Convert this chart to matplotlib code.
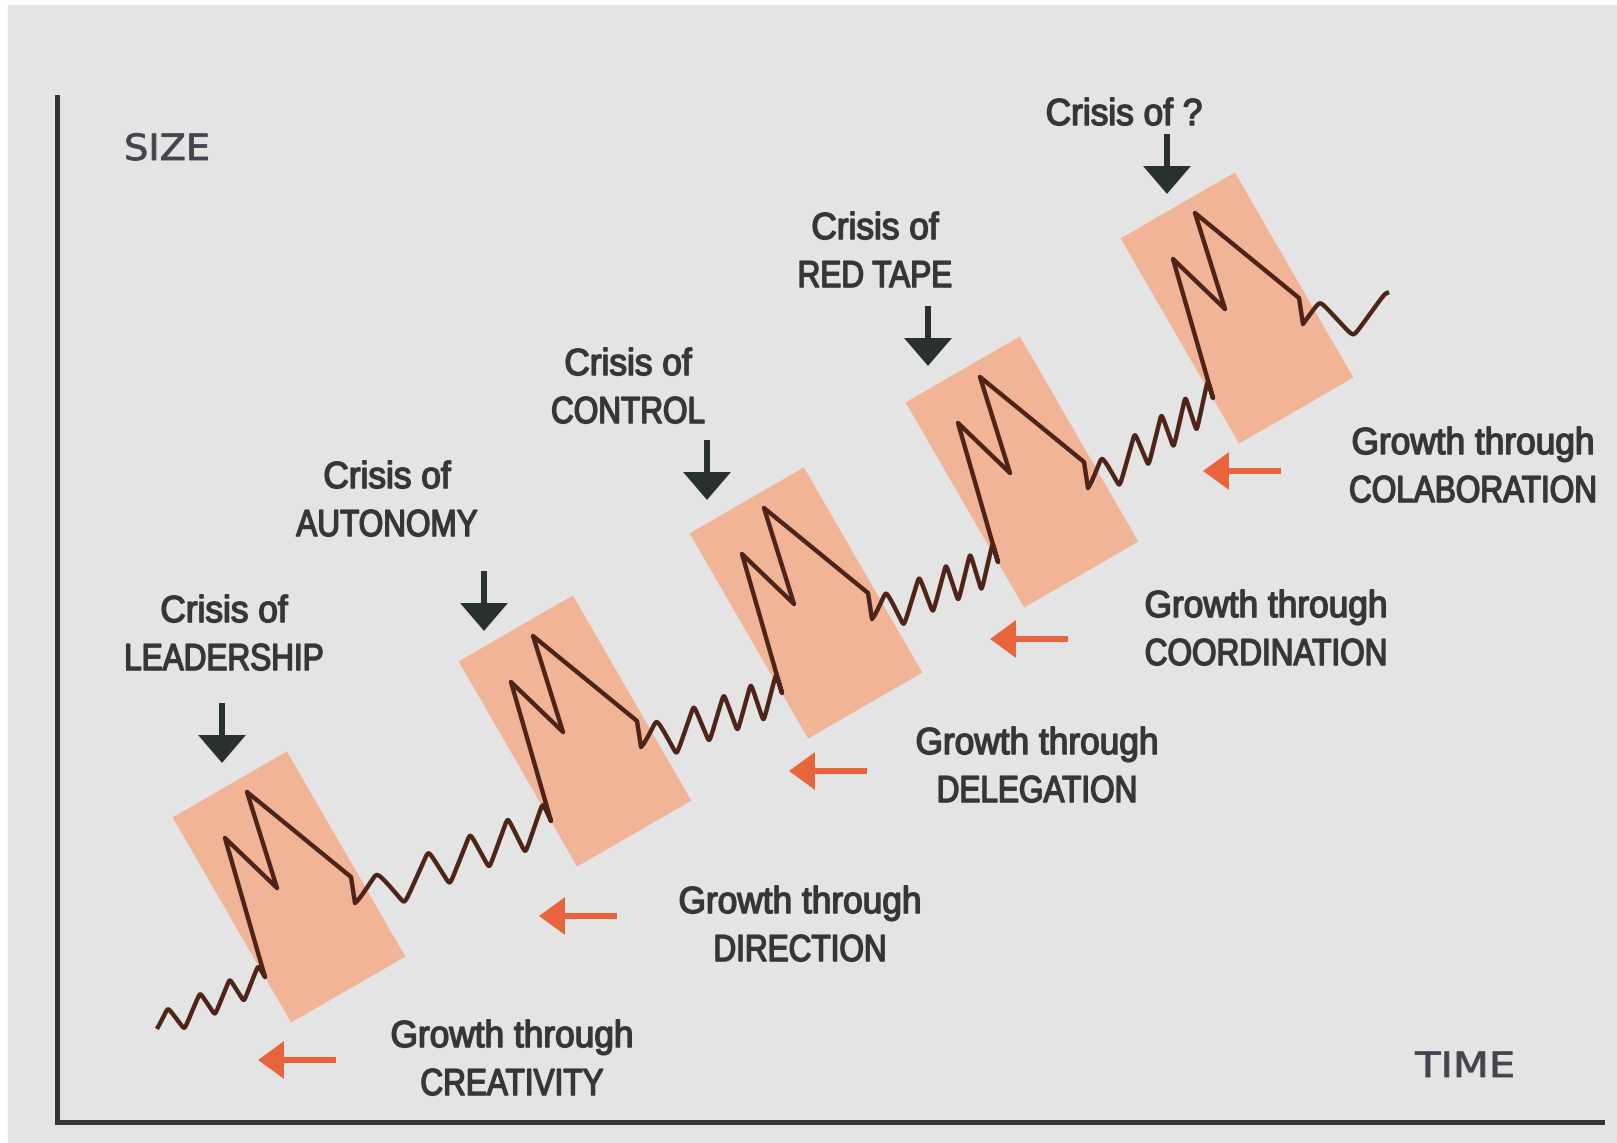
import numpy as np
import matplotlib
matplotlib.use("Agg")
import matplotlib.pyplot as plt
from matplotlib import font_manager
from matplotlib.patches import Polygon, Rectangle, FancyArrow
from matplotlib.patheffects import AbstractPathEffect
from matplotlib.transforms import Affine2D

# stages of the model
crisis_labels = ["Crisis of\nLEADERSHIP", "Crisis of\nAUTONOMY", "Crisis of\nCONTROL",
                 "Crisis of\nRED TAPE", "Crisis of ?"]
growth_labels = ["Growth through\nCREATIVITY", "Growth through\nDIRECTION",
                 "Growth through\nDELEGATION", "Growth through\nCOORDINATION",
                 "Growth through\nCOLABORATION"]
axis_labels = ["SIZE", "TIME"]

# layout (pixel coords, y downwards)
W, H = 1617, 1143
box_cx = [289, 575, 806, 1022, 1237]
box_cy = [887, 731, 603, 472, 308]
box_w, box_h, box_ang = 132, 237, 30
# M shape of a revolution, relative to box centre
m_dx = [-24, -64, -12, -42, 62, 66]
m_dy = [90, -49, 1, -95, -10, 16]
crisis_x = [224, 387, 628, 875, 1124]
crisis_y = [622, 488, 375, 239, 125]
down_x = [222, 484, 707, 928, 1167]
down_tip = [763, 631, 500, 366, 194]
growth_x = [512, 800, 1037, 1266, 1473]
growth_y = [1047, 913, 754, 617, 454]
orange_tip = [258, 539, 789, 990, 1203]
orange_y = [1060, 916, 771, 639, 471]
line_start = (158, 1027)
line_end = (1387, 311)

names = {f.name for f in font_manager.fontManager.ttflist}
has_narrow = 'Liberation Sans Narrow' in names
narrow = 'Liberation Sans Narrow' if has_narrow else 'Liberation Sans'

bg = '#e4e4e4'
txt_col = '#363638'
dark = '#283030'
orange = '#e8643c'
box_col = '#f1b497'
line_col = '#4e2418'


class Stretch(AbstractPathEffect):
    """draw text squeezed/widened horizontally around x = cx (pixels)"""
    def __init__(self, cx, sx, stroke=0.0):
        super().__init__()
        self.cx, self.sx, self.stroke = cx, sx, stroke

    def draw_path(self, renderer, gc, tpath, affine, rgbFace=None):
        aff = affine + Affine2D().translate(-self.cx, 0).scale(self.sx, 1).translate(self.cx, 0)
        gc0 = renderer.new_gc()
        gc0.copy_properties(gc)
        if self.stroke > 0 and rgbFace is not None:
            gc0.set_foreground(rgbFace)
            gc0.set_linewidth(self.stroke)
        renderer.draw_path(gc0, tpath, aff, rgbFace)
        gc0.restore()


def wiggle(a, b, n_half, amp, power=1.3):
    # zigzag that gets tighter towards the next crisis
    t = np.linspace(0, 1, 400)
    phi = np.pi * n_half * t ** power
    s = np.arcsin(0.97 * np.sin(phi)) / np.arcsin(0.97)
    x = a[0] + t * (b[0] - a[0])
    y = a[1] + t * (b[1] - a[1]) - amp * s
    return x, y


fig = plt.figure(figsize=(W / 100, H / 100), dpi=100)
fig.patch.set_facecolor('white')
ax = fig.add_axes([0, 0, 1, 1])
ax.set_xlim(0, W)
ax.set_ylim(H, 0)
ax.axis('off')
ax.add_patch(Rectangle((8, 5), W, H, color=bg, zorder=0))
renderer = fig.canvas.get_renderer()

# axes of the diagram
ax.plot([57, 57, 1602], [97, 1122, 1122], color='#333338', lw=3.6,
        solid_joinstyle='miter', zorder=2)
ax.text(167, 150, axis_labels[0], fontsize=26, color='#44444e', ha='center', va='center',
        path_effects=[Stretch(167, 1.06, 0.6)])
ax.text(1465, 1067, axis_labels[1], fontsize=25, color='#44444e', ha='center', va='center',
        path_effects=[Stretch(1465, 1.2, 0.6)])

# boxes
a = np.radians(box_ang)
u = np.array([np.cos(a), -np.sin(a)])
v = np.array([np.sin(a), np.cos(a)])
for cx, cy in zip(box_cx, box_cy):
    c = np.array([cx, cy])
    pts = [c - box_w / 2 * u - box_h / 2 * v, c + box_w / 2 * u - box_h / 2 * v,
           c + box_w / 2 * u + box_h / 2 * v, c - box_w / 2 * u + box_h / 2 * v]
    ax.add_patch(Polygon(pts, closed=True, color=box_col, lw=0, zorder=1))

# the growth line
xs, ys = [], []
prev = line_start
for i, (cx, cy) in enumerate(zip(box_cx, box_cy)):
    mx = [cx + d for d in m_dx]
    my = [cy + d for d in m_dy]
    if i == 0:
        wx, wy = wiggle(prev, (mx[0], my[0]), 7, 13, 1.1)
    else:
        wx, wy = wiggle(prev, (mx[0], my[0]), 9, 19)
    xs += list(wx) + mx[1:]
    ys += list(wy) + my[1:]
    prev = (mx[-1], my[-1])
wx, wy = wiggle(prev, line_end, 2.5, 18, 1.0)
xs += list(wx)
ys += list(wy)
ax.plot(xs, ys, color=line_col, lw=3.2, solid_joinstyle='round', zorder=3)


def two_lines(lab, tx, ty):
    # condensed look: squeeze the glyphs, anchor on the right edge of the drawn text
    for k, line in enumerate(lab.split('\n')):
        sx = 1.0 if has_narrow else (0.84 if line.isupper() else 0.94)
        t = ax.text(tx, ty + 48 * k, line, fontsize=27, family=narrow, color=txt_col,
                    ha='center', va='baseline', zorder=4)
        w = t.get_window_extent(renderer).width
        right = tx + w * sx / 2
        t.set_x(right)
        t.set_ha('right')
        t.set_path_effects([Stretch(right, sx, 1.1)])


# crisis arrows and labels
for lab, tx, ty, ax_x, tip in zip(crisis_labels, crisis_x, crisis_y, down_x, down_tip):
    two_lines(lab, tx, ty)
    ax.add_patch(FancyArrow(ax_x, tip - 60, 0, 60, width=6, head_width=48,
                            head_length=28, length_includes_head=True,
                            color=dark, lw=0, zorder=4))

# growth arrows and labels
for lab, tx, ty, tipx, oy in zip(growth_labels, growth_x, growth_y, orange_tip, orange_y):
    two_lines(lab, tx, ty)
    ax.add_patch(FancyArrow(tipx + 78, oy, -78, 0, width=6, head_width=38,
                            head_length=26, length_includes_head=True,
                            color=orange, lw=0, zorder=4))

fig.savefig('out.png', dpi=100, facecolor=fig.get_facecolor())
